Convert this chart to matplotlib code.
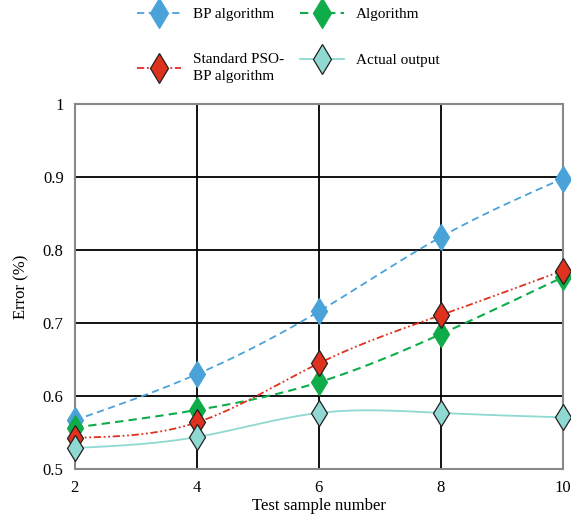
import numpy as np
import matplotlib
matplotlib.use("Agg")
import matplotlib.pyplot as plt
from matplotlib.lines import Line2D

plt.rcParams['font.family'] = ['Liberation Serif', 'DejaVu Serif']

samples = [2, 4, 6, 8, 10]
bp = [0.567, 0.630, 0.716, 0.818, 0.898]
alg = [0.557, 0.581, 0.619, 0.685, 0.763]
pso = [0.543, 0.564, 0.645, 0.711, 0.772]
actual = [0.529, 0.544, 0.577, 0.577, 0.571]
labels = ["BP algorithm", "Algorithm", "Standard PSO-\nBP algorithm", "Actual output"]
yticks = [0.5, 0.6, 0.7, 0.8, 0.9, 1.0]
yticklabels = ["0.5", "0.6", "0.7", "0.8", "0.9", "1"]


def natural_spline(x, y, n=200):
    x = np.asarray(x, float); y = np.asarray(y, float)
    k = len(x); h = np.diff(x)
    A = np.zeros((k, k)); r = np.zeros(k)
    A[0, 0] = A[-1, -1] = 1
    for i in range(1, k - 1):
        A[i, i - 1] = h[i - 1]; A[i, i] = 2 * (h[i - 1] + h[i]); A[i, i + 1] = h[i]
        r[i] = 3 * ((y[i + 1] - y[i]) / h[i] - (y[i] - y[i - 1]) / h[i - 1])
    c = np.linalg.solve(A, r)
    b = np.zeros(k - 1); d = np.zeros(k - 1)
    for i in range(k - 1):
        b[i] = (y[i + 1] - y[i]) / h[i] - h[i] * (2 * c[i] + c[i + 1]) / 3
        d[i] = (c[i + 1] - c[i]) / (3 * h[i])
    xs = np.linspace(x[0], x[-1], n)
    idx = np.clip(np.searchsorted(x, xs) - 1, 0, k - 2)
    dx = xs - x[idx]
    ys = y[idx] + b[idx] * dx + c[idx] * dx ** 2 + d[idx] * dx ** 3
    return xs, ys


fig = plt.figure(figsize=(5.71, 5.15), dpi=100)
ax = fig.add_axes([0.131, 0.089, 0.855, 0.709])

series = [
    (bp, '#4aa3d8', (0, (4, 2.5)), 'none', 1.3),
    (alg, '#0fac4a', (0, (4, 2.5)), 'none', 1.5),
    (pso, '#e0301e', (0, (4, 1.5, 1, 1.5, 1, 1.5)), '#222222', 1.3),
    (actual, '#8fd9d2', '-', '#222222', 1.3),
]
handles = []
for vals, col, ls, ec, lw in series:
    xs, ys = natural_spline(samples, vals)
    ax.plot(xs, ys, color=col, linestyle=ls, linewidth=lw, zorder=3)
    mec = col if ec == 'none' else ec
    ax.plot(samples, vals, linestyle='none', marker='d', markersize=13.5,
            markerfacecolor=col, markeredgecolor=mec, markeredgewidth=0.9,
            zorder=4, clip_on=False)
    handles.append(Line2D([0], [0], color=col, linestyle=ls, linewidth=lw,
                          marker='d', markersize=15, markerfacecolor=col,
                          markeredgecolor=mec, markeredgewidth=0.9))

ax.set_xlim(2, 10)
ax.set_ylim(0.5, 1.0)
ax.set_xticks(samples)
ax.set_yticks(yticks)
ax.set_yticklabels(yticklabels)
ax.grid(True, color='black', linewidth=1.3)
ax.set_axisbelow(True)
ax.tick_params(length=0, labelsize=12, pad=8)
for s in ax.spines.values():
    s.set_color('#888888'); s.set_linewidth(1.5)
ax.set_xlabel("Test sample number", fontsize=12, labelpad=1)
ax.set_ylabel("Error (%)", fontsize=12, labelpad=10)

order = [0, 2, 1, 3]
leg = fig.legend([handles[i] for i in order], [labels[i] for i in order],
                 ncol=2, loc='upper center', bbox_to_anchor=(0.505, 1.012),
                 frameon=False, fontsize=11, handlelength=2.9, columnspacing=1.0,
                 labelspacing=2.1, handletextpad=0.8)
for t in leg.get_texts():
    t.set_linespacing(1.35)

fig.savefig("out.png", dpi=100)
